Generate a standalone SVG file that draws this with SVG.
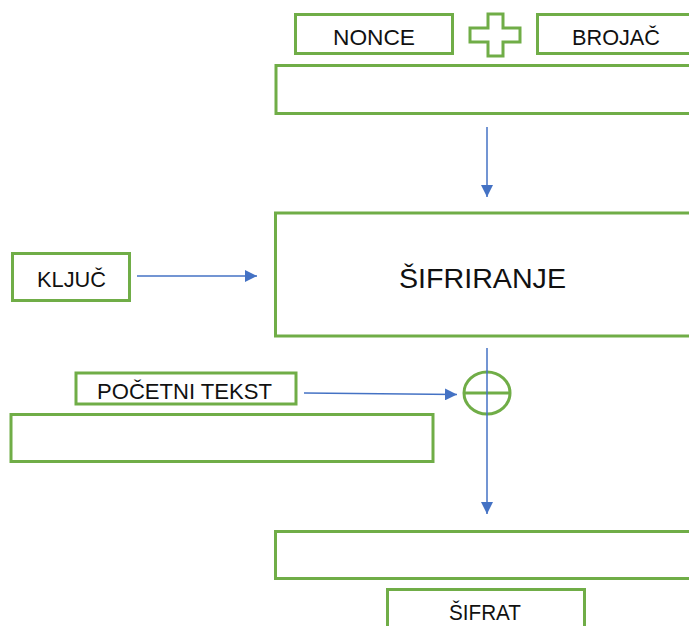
<svg xmlns="http://www.w3.org/2000/svg" width="689" height="626" viewBox="0 0 689 626">
<defs>
<style>
.box{fill:#fff;stroke:#70AD47;stroke-width:3}
.sym{fill:none;stroke:#70AD47;stroke-width:3}
.lbl{font-family:"Liberation Sans",Arial,sans-serif;font-size:22px;fill:#111;text-anchor:start}
.big{font-family:"Liberation Sans",Arial,sans-serif;font-size:27px;fill:#111}
.con{fill:none;stroke:#4472C4;stroke-width:1.5}
</style>
<marker id="ah2" viewBox="0 0 10 10" refX="10" refY="5" markerWidth="12" markerHeight="12" markerUnits="userSpaceOnUse" orient="auto">
<path d="M0,0 L10,5 L0,10 Z" fill="#4472C4"/>
</marker>
</defs>
<rect width="689" height="626" fill="#fff"/>
<g id="nonce"><rect class="box" x="295.5" y="14.5" width="157" height="39"/><text class="lbl" x="333" y="44.5" textLength="82" lengthAdjust="spacingAndGlyphs">NONCE</text></g>
<g id="plus"><path class="sym" d="M488,14 H503 V28 H520 V42 H503 V56 H488 V42 H470 V28 H488 Z"/></g>
<g id="brojac"><rect class="box" x="537.5" y="14.5" width="170" height="39"/><text class="lbl" x="572" y="44.5" textLength="88" lengthAdjust="spacingAndGlyphs">BROJAČ</text></g>
<g id="counter-block"><rect class="box" x="276" y="65.5" width="430" height="48"/></g>
<g id="sifriranje"><rect class="box" x="275.5" y="213" width="430" height="123"/><text class="big" x="399" y="287.5" textLength="167" lengthAdjust="spacingAndGlyphs">ŠIFRIRANJE</text></g>
<g id="kljuc"><rect class="box" x="12.5" y="253.5" width="117" height="47"/><text class="lbl" x="37" y="286.5" textLength="69" lengthAdjust="spacingAndGlyphs">KLJUČ</text></g>
<g id="pocetni"><rect class="box" x="76" y="373" width="220" height="31"/><text class="lbl" x="97" y="398.5" textLength="175" lengthAdjust="spacingAndGlyphs">POČETNI TEKST</text></g>
<g id="plain-block"><rect class="box" x="11" y="414.5" width="422" height="47"/></g>
<g id="xor"><ellipse class="sym" cx="487" cy="393" rx="23" ry="21"/><line class="sym" x1="464" y1="393" x2="510" y2="393"/></g>
<g id="out-block"><rect class="box" x="275.5" y="531.5" width="430" height="47"/></g>
<g id="sifrat"><rect class="box" x="387.5" y="589.5" width="197" height="50"/><text class="lbl" x="449" y="619.5" textLength="72" lengthAdjust="spacingAndGlyphs">ŠIFRAT</text></g>
<g id="connectors">
<line class="con" x1="487" y1="127" x2="487" y2="197" marker-end="url(#ah2)"/>
<line class="con" x1="137" y1="276" x2="257" y2="276" marker-end="url(#ah2)"/>
<line class="con" x1="304" y1="393" x2="457" y2="394.5" marker-end="url(#ah2)"/>
<line class="con" x1="487" y1="348" x2="487" y2="514" marker-end="url(#ah2)"/>
</g>
</svg>
